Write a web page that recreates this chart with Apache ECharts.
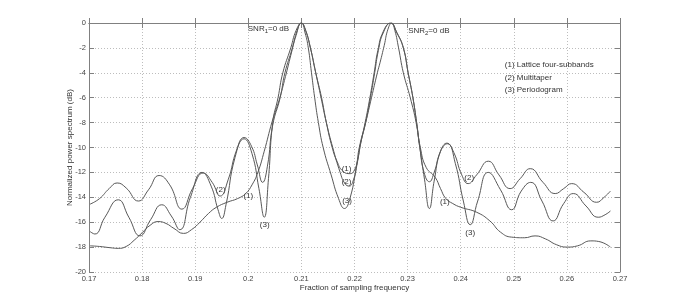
<!DOCTYPE html>
<html>
<head>
<meta charset="utf-8">
<script src="https://cdn.jsdelivr.net/npm/echarts@6/dist/echarts.min.js"></script>
<style>
  html, body { margin: 0; padding: 0; background: #fff; }
  #chart { width: 685px; height: 305px; }
</style>
</head>
<body>
<div id="chart"></div>
<script>
  // frequency (fraction of fs), normalized power (dB)
  var lattice = [
    [0.1702, -17.9], [0.1720, -17.95], [0.1740, -18.05], [0.1755, -18.1], [0.1770, -17.95],
    [0.1785, -17.45], [0.1800, -16.85], [0.1815, -16.25], [0.1830, -15.95], [0.1845, -16.1],
    [0.1860, -16.5], [0.1878, -16.9], [0.1893, -16.6], [0.1909, -16.0], [0.1925, -15.3],
    [0.1940, -14.8], [0.1960, -14.4], [0.1980, -14.1], [0.1995, -13.7], [0.2007, -13.0],
    [0.2018, -12.0], [0.2030, -10.3], [0.2045, -7.9], [0.2058, -6.2], [0.2070, -4.3],
    [0.2080, -2.6], [0.2090, -1.0], [0.2100, 0], [0.2108, -0.6], [0.2117, -2],
    [0.2127, -4], [0.2138, -6], [0.2147, -8], [0.2158, -10], [0.2167, -11.1],
    [0.2178, -11.9], [0.2192, -12.1], [0.2200, -11.8], [0.2206, -11.0], [0.2212, -9.6],
    [0.2221, -8], [0.2230, -6], [0.2238, -4], [0.2245, -2.2], [0.2254, -0.8],
    [0.2268, 0], [0.2280, -0.8], [0.2292, -2], [0.2301, -4], [0.2310, -6],
    [0.2317, -8], [0.2324, -10], [0.2335, -11.6], [0.2352, -12.4], [0.2362, -13.3],
    [0.2372, -14.1], [0.2385, -14.5], [0.2400, -14.8], [0.2430, -15.2], [0.2455, -15.9],
    [0.2475, -16.8], [0.2496, -17.2], [0.2520, -17.25], [0.2540, -17.1], [0.2560, -17.35],
    [0.2580, -17.8], [0.2600, -18.0], [0.2620, -17.9], [0.2645, -17.5], [0.2660, -17.55],
    [0.2682, -18.0]
  ];

  var multitaper = [
    [0.1702, -14.55], [0.1720, -14.1], [0.1738, -13.3], [0.1753, -12.85], [0.1770, -13.25],
    [0.1793, -14.3], [0.1812, -13.4], [0.1832, -12.25], [0.1852, -13.0], [0.1875, -14.95],
    [0.1895, -13.3], [0.1915, -12.05], [0.1932, -12.8], [0.1947, -13.9], [0.1962, -12.6],
    [0.1978, -10.2], [0.1992, -9.2], [0.2006, -9.9], [0.2017, -11.4], [0.2027, -12.8],
    [0.2036, -11.5], [0.2046, -8.2], [0.2060, -6.0], [0.2069, -4.0], [0.2083, -2.0],
    [0.2092, -0.6], [0.2100, 0], [0.2108, -0.6], [0.2117, -2], [0.2127, -4],
    [0.2137, -6], [0.2147, -8], [0.2159, -10], [0.2173, -12], [0.2182, -12.9],
    [0.2190, -13.1], [0.2198, -12.6], [0.2205, -11.3], [0.2210, -10.0], [0.2220, -8],
    [0.2229, -6], [0.2237, -4], [0.2244, -2.2], [0.2254, -0.7], [0.2268, 0],
    [0.2280, -0.8], [0.2292, -2], [0.2301, -4], [0.2310, -6], [0.2317, -8],
    [0.2323, -10], [0.2331, -12], [0.2341, -12.75], [0.2350, -12.0], [0.2362, -10.3],
    [0.2374, -9.65], [0.2387, -10.4], [0.2402, -12.2], [0.2414, -12.9], [0.2430, -12.2],
    [0.2452, -11.1], [0.2472, -12.2], [0.2493, -13.3], [0.2512, -12.5], [0.2531, -11.7],
    [0.2555, -12.8], [0.2578, -13.7], [0.2594, -13.3], [0.2609, -12.9], [0.2632, -13.6],
    [0.2656, -14.4], [0.2670, -14.0], [0.2682, -13.5]
  ];

  var periodogram = [
    [0.1702, -16.75], [0.1711, -16.95], [0.1730, -15.6], [0.1755, -14.2], [0.1775, -15.6],
    [0.1796, -17.1], [0.1816, -15.8], [0.1837, -14.6], [0.1855, -15.5], [0.1871, -16.6],
    [0.1891, -14.0], [0.1913, -12.0], [0.1930, -13.1], [0.1943, -15.0], [0.1950, -15.7],
    [0.1958, -14.6], [0.1975, -10.8], [0.1992, -9.3], [0.2007, -10.5], [0.2020, -13.3],
    [0.2030, -15.6], [0.2038, -12.5], [0.2046, -8.0], [0.2056, -6.0], [0.2065, -4.0],
    [0.2080, -2.0], [0.2090, -0.6], [0.2100, 0], [0.2107, -0.8], [0.2113, -2],
    [0.2119, -4], [0.2125, -6], [0.2132, -8], [0.2141, -10], [0.2156, -12.2],
    [0.2170, -14.1], [0.2181, -14.9], [0.2192, -14.0], [0.2204, -11.4], [0.2209, -10],
    [0.2221, -8], [0.2232, -6], [0.2243, -4], [0.2248, -3.2], [0.2256, -1.8],
    [0.2263, -0.5], [0.2270, 0], [0.2276, -0.6], [0.2283, -2], [0.2292, -4],
    [0.2305, -6], [0.2316, -8], [0.2323, -10], [0.2332, -12.6], [0.2341, -14.9],
    [0.2350, -12.7], [0.2362, -10.3], [0.2375, -9.7], [0.2390, -11.3], [0.2405, -14.3],
    [0.2418, -16.2], [0.2432, -14.3], [0.2452, -12.0], [0.2475, -13.4], [0.2496, -15.0],
    [0.2514, -13.5], [0.2532, -12.8], [0.2553, -14.3], [0.2574, -15.9], [0.2594, -14.5],
    [0.2612, -13.7], [0.2636, -14.7], [0.2659, -15.6], [0.2672, -15.4], [0.2682, -15.1]
  ];

  // curve tags and notes, placed in data coordinates
  var tagText = ['(2)', '(1)', '(3)', '(1)', '(2)', '(3)', '(1)', '(2)', '(3)'];
  var tagX    = [0.1948, 0.2000, 0.2031, 0.2185, 0.2185, 0.2186, 0.2370, 0.2416, 0.2418];
  var tagY    = [-13.37, -13.9, -16.2, -11.75, -12.75, -14.3, -14.35, -12.4, -16.85];

  var legendText = ['(1) Lattice four-subbands', '(2) Multitaper', '(3) Periodogram'];
  var legendX = 0.2483;
  var legendY = [-3.36, -4.43, -5.4];

  var snrText = ['SNR{s|1}=0 dB', 'SNR{s|2}=0 dB'];
  var snrX = [0.1999, 0.2301];
  var snrY = [-0.45, -0.6];

  var font = '"Liberation Sans", Arial, sans-serif';
  var lineColor = '#585858';

  var chart = echarts.init(document.getElementById('chart'));

  function curve(name, data) {
    return {
      name: name,
      type: 'line',
      data: data,
      smooth: 0.5,
      showSymbol: false,
      lineStyle: { color: lineColor, width: 1 },
      silent: true
    };
  }

  var option = {
    animation: false,
    backgroundColor: '#fff',
    grid: { left: 89, right: 65, top: 23, bottom: 33 },
    xAxis: [{
      type: 'value',
      min: 0.17,
      max: 0.27,
      interval: 0.01,
      name: 'Fraction of sampling frequency',
      nameLocation: 'middle',
      nameGap: 12,
      nameMoveOverlap: false,
      nameTextStyle: { fontFamily: font, fontSize: 8, color: '#333', verticalAlign: 'top' },
      axisLine: { lineStyle: { color: '#808080' } },
      axisTick: { inside: true, length: 5, lineStyle: { color: '#808080' } },
      axisLabel: {
        fontFamily: font, fontSize: 7.5, color: '#444', margin: 3,
        formatter: function (v) { return String(+v.toFixed(2)); }
      },
      splitLine: { show: true, lineStyle: { color: '#bdbdbd', type: [1, 2] } }
    }, {
      type: 'value',
      position: 'top',
      min: 0.17,
      max: 0.27,
      interval: 0.01,
      axisLine: { show: true, lineStyle: { color: '#808080' } },
      axisTick: { show: true, inside: true, length: 5, lineStyle: { color: '#808080' } },
      axisLabel: { show: false },
      splitLine: { show: false }
    }],
    yAxis: [{
      type: 'value',
      min: -20,
      max: 0,
      interval: 2,
      name: 'Normalized power spectrum (dB)',
      nameLocation: 'middle',
      nameGap: 15,
      nameMoveOverlap: false,
      nameTextStyle: { fontFamily: font, fontSize: 8, color: '#333' },
      axisLine: { show: true, lineStyle: { color: '#808080' } },
      axisTick: { show: true, inside: true, length: 5, lineStyle: { color: '#808080' } },
      axisLabel: { fontFamily: font, fontSize: 7.5, color: '#444', margin: 3 },
      splitLine: { show: true, lineStyle: { color: '#bdbdbd', type: [1, 2] } }
    }, {
      type: 'value',
      position: 'right',
      min: -20,
      max: 0,
      interval: 2,
      axisLine: { show: true, lineStyle: { color: '#808080' } },
      axisTick: { show: true, inside: true, length: 5, lineStyle: { color: '#808080' } },
      axisLabel: { show: false },
      splitLine: { show: false }
    }],
    series: [
      curve('Lattice four-subbands', lattice),
      curve('Multitaper', multitaper),
      curve('Periodogram', periodogram)
    ]
  };

  chart.setOption(option);

  // text notes, positioned through the axes
  var graphics = [];
  var textStyle = { fontFamily: font, fontSize: 8, fill: '#333' };
  tagText.forEach(function (t, i) {
    var p = chart.convertToPixel({ gridIndex: 0 }, [tagX[i], tagY[i]]);
    graphics.push({
      type: 'text', x: p[0], y: p[1], silent: true,
      style: Object.assign({ text: t, align: 'center', verticalAlign: 'middle' }, textStyle)
    });
  });
  legendText.forEach(function (t, i) {
    var p = chart.convertToPixel({ gridIndex: 0 }, [legendX, legendY[i]]);
    graphics.push({
      type: 'text', x: p[0], y: p[1], silent: true,
      style: Object.assign({ text: t, align: 'left', verticalAlign: 'middle' }, textStyle)
    });
  });
  snrText.forEach(function (t, i) {
    var p = chart.convertToPixel({ gridIndex: 0 }, [snrX[i], snrY[i]]);
    graphics.push({
      type: 'text', x: p[0], y: p[1], silent: true,
      style: Object.assign({
        text: t, align: 'left', verticalAlign: 'middle',
        rich: { s: { fontFamily: font, fontSize: 6, fill: '#333', padding: [5, 0, 0, 0] } }
      }, textStyle)
    });
  });
  chart.setOption({ graphic: graphics });
</script>
</body>
</html>
